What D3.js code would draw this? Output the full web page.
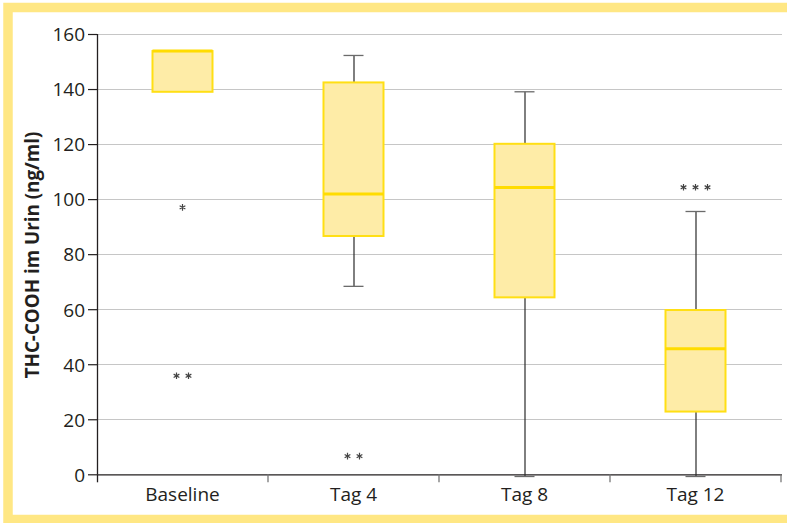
<!DOCTYPE html>
<html>
<head>
<meta charset="utf-8">
<script src="https://cdn.jsdelivr.net/npm/d3@7"></script>
<style>
  body { margin: 0; background: #fff; }
  svg { display: block; font-family: "Open Sans", sans-serif; }
</style>
</head>
<body>
<div id="chart"></div>
<script>
// THC-COOH im Urin – Boxplots
const groups = ["Baseline", "Tag 4", "Tag 8", "Tag 12"];
const whiskerLow  = [null, 68.3, -0.8, -0.8];
const q1          = [139, 86.6, 64.3, 22.8];
const median      = [153.8, 101.9, 104.2, 45.6];
const q3          = [153.8, 142.4, 120.1, 59.7];
const whiskerHigh = [null, 152.2, 139, 95.5];
// each entry: [value, number of stars side by side]
const outliers = [
    [[97, 1], [35.8, 2]],
    [[6.6, 2]],
    [],
    [[104.3, 3]]
];
const yTicks = [0, 20, 40, 60, 80, 100, 120, 140, 160];

{
    const W = 787, H = 523;
    const margin = { top: 34, right: 6, bottom: 49, left: 97 };
    const width = W - margin.left - margin.right;
    const height = H - margin.top - margin.bottom;

    const svgRoot = d3.select("#chart").append("svg")
        .attr("width", W)
        .attr("height", H);

    // yellow frame
    svgRoot.append("rect")
        .attr("x", 8).attr("y", 7.5)
        .attr("width", W + 20).attr("height", 512)
        .attr("fill", "none")
        .attr("stroke", "#ffe784")
        .attr("stroke-width", 9.5);

    const svg = svgRoot.append("g")
        .attr("transform", `translate(${margin.left},${margin.top})`);

    const x = d3.scaleBand().domain(groups).range([0, 684]);
    const y = d3.scaleLinear().domain([0, 160]).range([height + 0.3, 0]);

    // gridlines
    svg.append("g")
        .selectAll("line")
        .data(yTicks.filter(d => d > 0))
        .join("line")
        .attr("x1", 0).attr("x2", 685)
        .attr("y1", d => Math.round(y(d)) + 0.5)
        .attr("y2", d => Math.round(y(d)) + 0.5)
        .attr("stroke", "#c6c6c6")
        .attr("stroke-width", 1.2);

    // y axis
    const yAxis = svg.append("g")
        .call(d3.axisLeft(y).tickValues(yTicks).tickSize(9).tickPadding(3));
    yAxis.select(".domain").attr("stroke", "#231f20").attr("stroke-width", 1.3).attr("d", `M0.5,${y(0)}V${y(160)}`);
    yAxis.selectAll(".tick line").attr("stroke", "#231f20").attr("stroke-width", 1.2);
    yAxis.selectAll(".tick text")
        .attr("fill", "#231f20")
        .style("font-size", "19px")
        .style("font-family", "Open Sans, sans-serif")
        .attr("dy", "0.36em");

    // x axis
    const xAxis = svg.append("g")
        .attr("transform", `translate(0,${y(0)})`);
    xAxis.append("path")
        .attr("d", `M0,0.5H685`)
        .attr("stroke", "#231f20")
        .attr("stroke-width", 1.3);
    xAxis.selectAll(".sep")
        .data(d3.range(groups.length + 1))
        .join("line")
        .attr("class", "sep")
        .attr("x1", i => i === 0 ? 0.5 : Math.min(x.step() * i, 684.5))
        .attr("x2", i => i === 0 ? 0.5 : Math.min(x.step() * i, 684.5))
        .attr("y1", 0).attr("y2", 8)
        .attr("stroke", i => i === 0 ? "#231f20" : "#777")
        .attr("stroke-width", 1.3);
    xAxis.selectAll(".lbl")
        .data(groups)
        .join("text")
        .attr("class", "lbl")
        .attr("x", d => x(d) + x.bandwidth() / 2)
        .attr("y", 27)
        .attr("text-anchor", "middle")
        .attr("fill", "#231f20")
        .style("font-size", "19px")
        .text(d => d);

    // y axis title
    svgRoot.append("text")
        .attr("transform", `translate(39,255) rotate(-90)`)
        .attr("text-anchor", "middle")
        .attr("fill", "#231f20")
        .style("font-size", "18.8px")
        .style("font-weight", "bold")
        .text("THC-COOH im Urin (ng/ml)");

    const boxW = 60, capW = 20;
    const data = groups.map((g, i) => ({
        g, lo: whiskerLow[i], q1: q1[i], med: median[i], q3: q3[i], hi: whiskerHigh[i], out: outliers[i]
    }));

    const box = svg.selectAll(".box")
        .data(data)
        .join("g")
        .attr("class", "box")
        .attr("transform", d => `translate(${x(d.g) + x.bandwidth() / 2},0)`);

    // whiskers
    box.filter(d => d.hi !== null).each(function (d) {
        const gg = d3.select(this);
        gg.append("line")
            .attr("x1", 0.5).attr("x2", 0.5)
            .attr("y1", y(d.hi)).attr("y2", y(d.q3))
            .attr("stroke", "#2b2b2b").attr("stroke-width", 1.2);
        gg.append("line")
            .attr("x1", 0.5).attr("x2", 0.5)
            .attr("y1", y(d.q1)).attr("y2", y(d.lo))
            .attr("stroke", "#2b2b2b").attr("stroke-width", 1.2);
        [d.hi, d.lo].forEach(v => {
            gg.append("line")
                .attr("x1", -capW / 2).attr("x2", capW / 2)
                .attr("y1", y(v)).attr("y2", y(v))
                .attr("stroke", "#6b6b6b").attr("stroke-width", 1.3);
        });
    });

    // boxes
    box.append("rect")
        .attr("x", -boxW / 2)
        .attr("y", d => y(d.q3))
        .attr("width", boxW)
        .attr("height", d => y(d.q1) - y(d.q3))
        .attr("fill", "#feeca7")
        .attr("stroke", "#ffdf14")
        .attr("stroke-width", 2);

    box.append("line")
        .attr("x1", -boxW / 2).attr("x2", boxW / 2)
        .attr("y1", d => y(d.med)).attr("y2", d => y(d.med))
        .attr("stroke", "#ffdc00")
        .attr("stroke-width", 3);

    // outliers as asterisks
    const star = d3.symbol().type(d3.symbolAsterisk).size(30);
    box.each(function (d) {
        const gg = d3.select(this);
        d.out.forEach(([v, n]) => {
            for (let k = 0; k < n; k++) {
                const dx = (k - (n - 1) / 2) * 12;
                gg.append("path")
                    .attr("d", star)
                    .attr("transform", `translate(${dx},${y(v)})`)
                    .attr("fill", "none")
                    .attr("stroke", "#444")
                    .attr("stroke-width", 1.2);
            }
        });
    });
}
</script>
</body>
</html>
